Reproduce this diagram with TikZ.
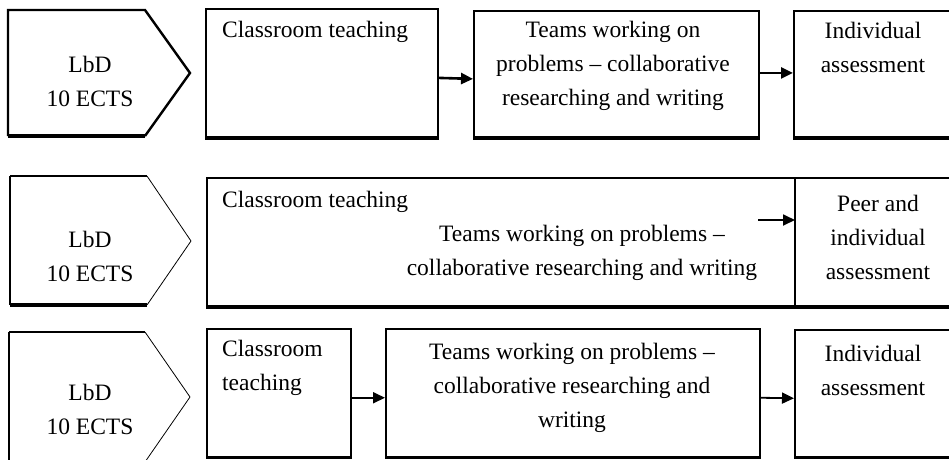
\documentclass[tikz,border=0pt]{standalone}
\usepackage{fontspec}
\setmainfont{Liberation Serif}
\usetikzlibrary{arrows.meta}
\begin{document}
\begin{tikzpicture}[x=1pt,y=-1pt,
  txt/.style={font=\fontsize{23.5}{34}\selectfont, inner sep=0pt, align=center},
  ltxt/.style={font=\fontsize{23.5}{34}\selectfont, inner sep=0pt, anchor=west},
  boxshape/.style={draw=black, line width=1.8pt, inner sep=0pt, anchor=north west},
  bottomline/.style={line width=3.6pt},
  thickedge/.style={line width=2.4pt, line join=miter},
  thinedge/.style={line width=0.8pt},
  arr/.style={line width=2.6pt, -{Triangle[length=12pt,width=11pt]}},
  arrthin/.style={line width=1.8pt, -{Triangle[length=12pt,width=11pt]}}]
\useasboundingbox (0,0) rectangle (949,459);
\fill[white] (0,0) rectangle (949,459);

% ---------- Row 1 ----------
\coordinate (p1a) at (8,10);
\coordinate (p1b) at (145,10);
\coordinate (p1c) at (190,73);
\coordinate (p1d) at (145,136);
\coordinate (p1e) at (8,136);
\draw[thickedge] (p1e) -- (p1a) -- (p1b) -- (p1c) -- (p1d);
\draw[bottomline] (p1d) -- (p1e);
\node[txt] (p1t) at (90,81) {LbD\\10 ECTS};

\node[boxshape, minimum width=232, minimum height=128] (c1) at (205,8) {};
\draw[bottomline] (c1.south west) -- (c1.south east);
\node[ltxt] (c1t) at (222,32) {Classroom teaching};

\node[boxshape, minimum width=285, minimum height=126] (t1) at (473,10) {};
\draw[bottomline] (t1.south west) -- (t1.south east);
\node[txt] (t1t) at (613,66) {Teams working on\\problems – collaborative\\researching and writing};

\node[boxshape, minimum width=170, minimum height=126] (i1) at (793,10) {};
\draw[bottomline] (i1.south west) -- (i1.south east);
\node[txt] (i1t) at (873,47) {Individual\\assessment};

\draw[arr] ([yshift=-5pt]c1.east) -- ([yshift=-5pt]t1.west);
\draw[arr] ([yshift=1pt]t1.east) -- ([yshift=1pt]i1.west);

% ---------- Row 2 ----------
\coordinate (p2a) at (10,176);
\coordinate (p2b) at (147,176);
\coordinate (p2c) at (191,241);
\coordinate (p2d) at (147,305);
\coordinate (p2e) at (10,305);
\draw[line width=1.4pt] (p2e) -- (p2a);
\draw[thickedge] (p2a) -- (p2b);
\draw[thinedge] (p2b) -- (p2c) -- (p2d);
\draw[bottomline] (p2d) -- (p2e);
\node[txt] (p2t) at (90,256) {LbD\\10 ECTS};

\node[boxshape, minimum width=760, minimum height=128] (b2) at (206,177) {};
\draw[bottomline] (b2.south west) -- (b2.south east);
\coordinate (d2top) at (795,177);
\coordinate (d2bot) at (795,305);
\draw[line width=1.6pt] (d2top) -- (d2bot);
\node[ltxt] (c2t) at (222,202) {Classroom teaching};
\node[txt] (t2t) at (582,253) {Teams working on problems –\\collaborative researching and writing};
\node[txt] (i2t) at (878,237) {Peer and\\individual\\assessment};
\coordinate (a2s) at (758,220);
\coordinate (a2e) at (795,220);
\draw[arrthin] (a2s) -- (a2e);

% ---------- Row 3 ----------
\coordinate (p3a) at (9,332);
\coordinate (p3b) at (145,332);
\coordinate (p3c) at (190,397);
\coordinate (p3d) at (145,462);
\coordinate (p3e) at (9,462);
\draw[line width=1.4pt] (p3e) -- (p3a);
\draw[thickedge] (p3a) -- (p3b);
\draw[thinedge] (p3b) -- (p3c) -- (p3d);
\node[txt] (p3t) at (90,409) {LbD\\10 ECTS};

\node[boxshape, line width=1.5pt, minimum width=144, minimum height=128] (c3) at (206,328) {};
\draw[bottomline] (c3.south west) -- (c3.south east);
\node[txt, align=left, anchor=north west] (c3t) at (222,340) {Classroom\\teaching};

\node[boxshape, line width=1.5pt, minimum width=374, minimum height=128] (t3) at (385,328) {};
\draw[bottomline] (t3.south west) -- (t3.south east);
\node[txt] (t3t) at (572,388) {Teams working on problems –\\collaborative researching and\\writing};

\node[boxshape, line width=1.5pt, minimum width=170, minimum height=127] (i3) at (794,329) {};
\draw[bottomline] (i3.south west) -- (i3.south east);
\node[txt] (i3t) at (873,370) {Individual\\assessment};

\draw[arrthin] ([yshift=-5pt]c3.east) -- ([yshift=-5pt]t3.west);
\draw[arrthin] ([yshift=-5pt]t3.east) -- ([yshift=-5pt]i3.west);
\end{tikzpicture}
\end{document}
